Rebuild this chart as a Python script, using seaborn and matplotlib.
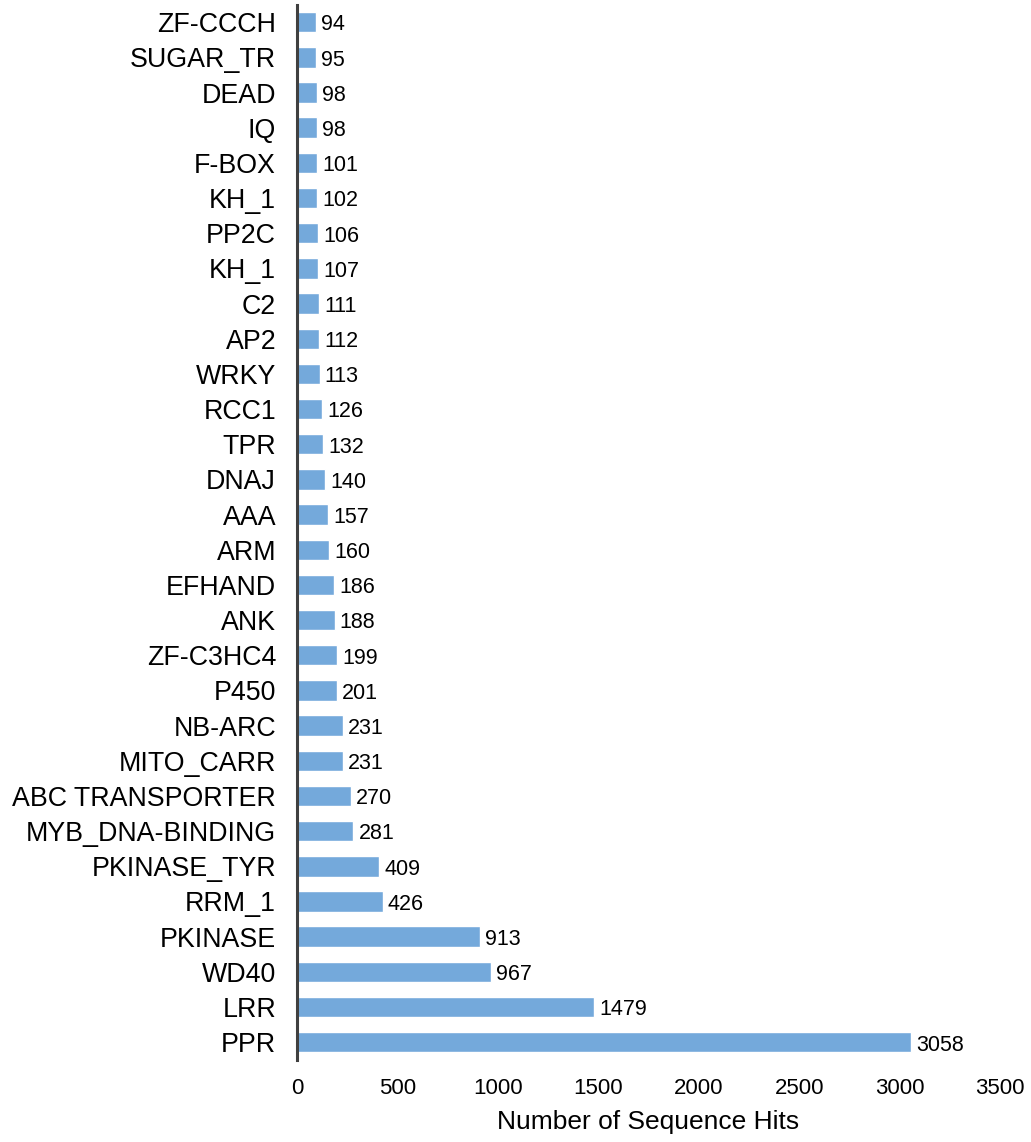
import numpy as np
import pandas as pd
import matplotlib
matplotlib.use("Agg")
import matplotlib.pyplot as plt
import seaborn as sns

domains = ["ZF-CCCH", "SUGAR_TR", "DEAD", "IQ", "F-BOX", "KH_1", "PP2C", "KH_1",
           "C2", "AP2", "WRKY", "RCC1", "TPR", "DNAJ", "AAA", "ARM", "EFHAND",
           "ANK", "ZF-C3HC4", "P450", "NB-ARC", "MITO_CARR", "ABC TRANSPORTER",
           "MYB_DNA-BINDING", "PKINASE_TYR", "RRM_1", "PKINASE", "WD40", "LRR", "PPR"]
hits = [94, 95, 98, 98, 101, 102, 106, 107, 111, 112, 113, 126, 132, 140, 157,
        160, 186, 188, 199, 201, 231, 231, 270, 281, 409, 426, 913, 967, 1479, 3058]
x_ticks = [0, 500, 1000, 1500, 2000, 2500, 3000, 3500]

sns.set_style("white")
plt.rcParams['font.family'] = ['Liberation Sans', 'DejaVu Sans']
plt.rcParams['text.color'] = 'black'
plt.rcParams['xtick.color'] = 'black'
plt.rcParams['ytick.color'] = 'black'
plt.rcParams['axes.labelcolor'] = 'black'

# KH_1 appears twice, so bars go on positions and names are set afterwards
df = pd.DataFrame({'pos': [str(i) for i in range(len(domains))], 'hits': hits})

fig = plt.figure(figsize=(10.31, 11.42), dpi=100)
ax = fig.add_axes([0.288, 0.072, 0.682, 0.924])
sns.barplot(data=df, x='hits', y='pos', orient='h', color='#74a9db',
            saturation=1, width=0.58, ax=ax)

for i, v in enumerate(hits):
    ax.text(v + 25, i + 0.08, str(v), va='center', ha='left', fontsize=15.5)

ax.set_yticks(range(len(domains)))
ax.set_yticklabels(domains, fontsize=19.3)
ax.set_xlim(0, 3500)
ax.set_ylim(len(domains) - 0.5, -0.5)
ax.set_xticks(x_ticks)
ax.set_xticklabels([str(t) for t in x_ticks], fontsize=16)
ax.set_xlabel("Number of Sequence Hits", fontsize=19, labelpad=8)
ax.set_ylabel("")
ax.tick_params(axis='y', length=0, pad=15)
ax.tick_params(axis='x', length=0, pad=13)

for s in ['top', 'right', 'bottom']:
    ax.spines[s].set_visible(False)
ax.spines['left'].set_color('#404040')
ax.spines['left'].set_linewidth(2.2)

fig.savefig("out.png", dpi=100)
